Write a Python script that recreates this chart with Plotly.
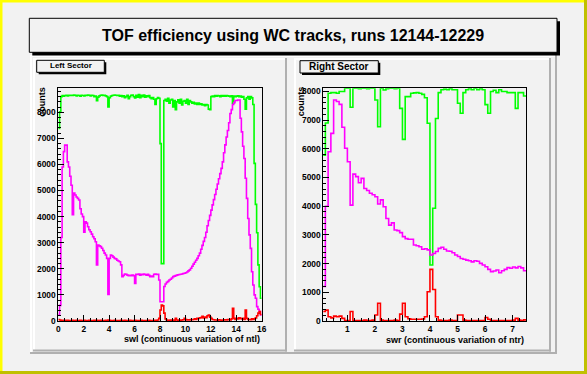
import plotly.graph_objects as go

W, H = 587, 374

# ---------------- data ----------------
left_x0, left_w = 0.0, 0.1
left_green = [
    7380, 8020, 8600, 8640, 8620, 8640, 8650, 8630, 8650, 8640,
    8650, 8640, 8660, 8650, 8630, 8650, 8640, 8620, 8650, 8640,
    8630, 8650, 8640, 8660, 8650, 8630, 8650, 8640, 8600, 8620,
    8440, 8580, 8630, 8650, 8660, 8640, 8650, 8630, 8600, 8200,
    8560, 8620, 8640, 8650, 8660, 8650, 8640, 8650, 8620, 8640,
    8600, 8630, 8560, 8600, 8650, 8520, 8600, 8650, 8660, 8600,
    8550, 8650, 8580, 8680, 8560, 8650, 8600, 8660, 8580, 8630,
    8600, 8640, 8560, 8520, 8560, 8500, 8300, 8520, 8560, 8540,
    6800, 2200, 2200, 8450, 8500, 8420, 8540, 8350, 8470, 8500,
    8200, 8450, 8100, 8400, 8480, 8350, 8500, 8280, 8420, 8450,
    8350, 8500, 8300, 8450, 8400, 8350, 8380, 8320, 8350, 8300,
    8350, 8300, 8320, 8280, 8300, 8250, 8300, 8280, 8120, 8100,
    8600, 8620, 8600, 8640, 8620, 8640, 8630, 8600, 8640, 8620,
    8640, 8620, 8640, 8630, 8620, 8600, 8630, 8350, 8620, 8600,
    8620, 8630, 8600, 8620, 8580, 8600, 8500, 8120, 8550, 8600,
    8500, 8600, 8550, 8300, 6040, 4470, 3380, 2150, 1315, 870,
]
left_magenta = [
    250, 600, 3200, 5900, 6490, 6740, 6740, 6100, 5900, 5550,
    5200, 4070, 4900, 4830, 4750, 4700, 4640, 4300, 4100, 4000,
    3400, 3800, 3750, 3610, 3500, 3420, 3330, 3230, 3150, 3040,
    2150, 2910, 2880, 2850, 2790, 2700, 2600, 2530, 2400, 1020,
    2400, 2530, 2500, 2450, 2400, 2380, 2330, 2300, 2270, 2150,
    1700, 1750, 1800, 1790, 1760, 1740, 1750, 1740, 1760, 1740,
    1440, 1790, 1780, 1800, 1760, 1790, 1770, 1800, 1780, 1760,
    1790, 1750, 1700, 1720, 1700, 1790, 1800, 1780, 1790, 1570,
    740, 740, 740, 1320, 1420, 1480, 1520, 1570, 1600, 1650,
    1700, 1720, 1740, 1760, 1770, 1780, 1790, 1800, 1820, 1830,
    1850, 1880, 1920, 1960, 2020, 2100, 2180, 2250, 2330, 2400,
    2500, 2600, 2750, 2900, 3050, 3200, 3400, 3650, 3850, 4050,
    4250, 4450, 4650, 4850, 5050, 5250, 5450, 5650, 5850, 6100,
    6450, 6750, 7050, 7300, 7600, 7950, 8100, 8300, 8370, 8450,
    8450, 8470, 8470, 7770, 7250, 6700, 6230, 5470, 4700, 3930,
    3300, 2785, 1890, 1380, 1000, 870, 550, 450, 360, 230,
]
left_red = [
    60, 40, 30, 30, 20, 30, 20, 30, 20, 20,
    20, 30, 20, 20, 30, 20, 20, 30, 20, 20,
    30, 20, 20, 20, 30, 20, 20, 20, 30, 20,
    30, 20, 20, 30, 20, 20, 20, 30, 20, 40,
    30, 20, 20, 20, 30, 20, 20, 20, 20, 30,
    20, 20, 30, 20, 20, 20, 30, 20, 20, 20,
    30, 20, 20, 20, 20, 30, 20, 20, 20, 20,
    20, 30, 20, 20, 20, 20, 30, 20, 40, 100,
    420, 610, 580, 300, 80, 40, 30, 30, 40, 30,
    40, 30, 100, 40, 30, 40, 30, 40, 50, 100,
    60, 40, 50, 40, 60, 50, 60, 80, 60, 100,
    100, 120, 130, 180, 120, 150, 130, 200, 230, 150,
    100, 60, 50, 40, 40, 30, 50, 40, 30, 40,
    40, 50, 40, 60, 50, 40, 80, 490, 100, 60,
    100, 80, 120, 100, 80, 100, 60, 420, 100, 60,
    60, 50, 80, 60, 80, 120, 200, 300, 360, 250,
]

right_x0, right_w = 0.1, 0.1
right_green = [
    5780, 6900, 7940, 7960, 7960, 7940, 8000, 8000, 8110, 8110,
    7450, 8110, 8110, 8100, 8110, 8110, 8100, 8110, 8110, 7700,
    6770, 8110, 8050, 8100, 8110, 8110, 8100, 8110, 7410, 6330,
    7820, 7820, 7940, 7950, 7960, 7940, 7900, 7780, 6890, 1950,
    3930, 7060, 7960, 8060, 8080, 8060, 8100, 8060, 8060, 7590,
    7240, 7960, 8060, 8100, 8060, 8110, 8060, 8100, 8060, 7540,
    7240, 8000, 8040, 7960, 8060, 8000, 8000, 7960, 7960, 7960,
    7410, 7960, 7960, 7840,
]
right_magenta = [
    1200, 4000, 5900, 6540, 7700, 7650, 7550, 6750, 6020, 5550,
    4040, 5120, 5030, 4820, 4970, 4620, 4550, 4450, 4400, 4330,
    4080, 4220, 3980, 3570, 3340, 3420, 3170, 3150, 3080, 2940,
    2870, 2850, 2850, 2650, 2620, 2590, 2500, 2520, 2480, 2300,
    2350, 2420, 2530, 2570, 2500, 2440, 2430, 2380, 2300, 2250,
    2180, 2150, 2120, 2100, 2060, 2100, 2080, 2010, 1950, 1890,
    1800, 1720, 1740, 1780, 1680, 1750, 1800, 1860, 1840, 1880,
    1850, 1900, 1850, 1750,
]
right_red = [
    330, 380, 150, 110, 170, 150, 170, 90, 20, 20,
    330, 20, 20, 20, 20, 30, 20, 20, 30, 210,
    620, 30, 20, 20, 20, 20, 30, 20, 240, 620,
    150, 80, 60, 60, 60, 60, 70, 150, 1020, 1800,
    1100, 150, 30, 20, 20, 20, 30, 20, 20, 210,
    210, 30, 20, 20, 20, 20, 20, 20, 20, 120,
    60, 20, 20, 20, 20, 20, 20, 20, 20, 30,
    90, 30, 20, 40,
]

title_text = "TOF efficiency using WC tracks, runs 12144-12229"
left_label = "Left Sector"
right_label = "Right Sector"
left_xtitle = "swl (continuous variation of ntl)"
right_xtitle = "swr (continuous variation of ntr)"
ytitle = "counts"

# ---------------- helpers ----------------
BG = "#f2f2f2"
GRAY = "#b0b0b0"
FONT = "Liberation Sans, Arial, Helvetica, sans-serif"


def px(x):
    return x / W


def py(y):
    return 1 - y / H


def rect(x0, y0, x1, y1, fill=None, line_color=None, lw=0):
    d = dict(type="rect", xref="paper", yref="paper",
             x0=px(x0), x1=px(x1), y0=py(y1), y1=py(y0), layer="above")
    d["fillcolor"] = fill if fill else "rgba(0,0,0,0)"
    if line_color:
        d["line"] = dict(color=line_color, width=lw)
    else:
        d["line"] = dict(width=0)
    return d


def bevel(x0, y0, x1, y1, b=2):
    return [
        rect(x0, y0, x1, y0 + b, fill="white"),
        rect(x0, y0, x0 + b, y1, fill="white"),
        rect(x1 - b, y0, x1, y1, fill=GRAY),
        rect(x0, y1 - b, x1, y1, fill=GRAY),
    ]


def hist(x0, w, vals, color, xa, ya):
    edges = [x0 + i * w for i in range(len(vals) + 1)]
    return go.Scatter(x=edges, y=list(vals) + [vals[-1]], mode="lines",
                      line=dict(color=color, width=1.6, shape="hv"),
                      xaxis=xa, yaxis=ya, showlegend=False, hoverinfo="skip")


fig = go.Figure()
for xa, ya, x0, w, g, m, r in [
    ("x", "y", left_x0, left_w, left_green, left_magenta, left_red),
    ("x2", "y2", right_x0, right_w, right_green, right_magenta, right_red),
]:
    fig.add_trace(hist(x0, w, g, "#00ff00", xa, ya))
    fig.add_trace(hist(x0, w, m, "#ff00ff", xa, ya))
    fig.add_trace(hist(x0, w, r, "#ff0000", xa, ya))

tickfont = dict(family=FONT, size=8.4, color="black", weight="bold")
axis_common = dict(showline=True, linecolor="black", linewidth=1, mirror=True,
                   ticks="inside", ticklen=6, tickwidth=1, tickcolor="black",
                   showgrid=False, zeroline=False, tickfont=tickfont,
                   automargin=False)

fig.update_layout(
    width=W, height=H, margin=dict(l=0, r=0, t=0, b=0, pad=0), autosize=False,
    paper_bgcolor=BG, plot_bgcolor=BG,
    xaxis=dict(domain=[px(58.3), px(261.7)], range=[0, 16], tick0=0, dtick=2,
               minor=dict(ticks="inside", ticklen=3, dtick=0.5, tick0=0, tickcolor="black"),
               anchor="y", **axis_common),
    yaxis=dict(domain=[py(321), py(88)], range=[0, 8930], tick0=0, dtick=1000,
               minor=dict(ticks="inside", ticklen=3, dtick=200, tick0=0, tickcolor="black"),
               anchor="x", **axis_common),
    xaxis2=dict(domain=[px(323.3), px(526.3)], range=[0.125, 7.5], tick0=0, dtick=1,
                minor=dict(ticks="inside", ticklen=3, dtick=0.25, tick0=0, tickcolor="black"),
                anchor="y2", **axis_common),
    yaxis2=dict(domain=[py(321), py(88.3)], range=[0, 8110], tick0=0, dtick=1000,
                minor=dict(ticks="inside", ticklen=3, dtick=200, tick0=0, tickcolor="black"),
                anchor="x2", **axis_common),
)

shapes = []
# canvas border
shapes.append(rect(0, 0, W, 2.5, fill="#ffff00"))
shapes.append(rect(0, 0, 2.5, H, fill="#ffff00"))
shapes.append(rect(W - 3, 0, W, H, fill="#c0c000"))
shapes.append(rect(0, H - 3, W, H, fill="#c0c000"))
# outer pad and sub pads
shapes += bevel(30, 55, 557, 354)
shapes += bevel(33, 58, 287, 351.5)
shapes += bevel(294, 58, 551, 351.5)
# title box with shadow
shapes.append(rect(32.3, 21.3, 560, 55.5, fill="black"))
shapes.append(rect(29.3, 18.3, 557, 52.3, fill=BG, line_color="black", lw=1))
# pad label boxes
shapes.append(rect(38.7, 62.3, 106.3, 74.3, fill="black"))
shapes.append(rect(36.7, 60.3, 104.3, 72.3, fill=BG, line_color="black", lw=1))
shapes.append(rect(302, 62.7, 380.3, 75, fill="black"))
shapes.append(rect(300, 60.7, 378.3, 73, fill=BG, line_color="black", lw=1))
fig.update_layout(shapes=shapes)


def ann(text, x, y, size, xanchor="center", angle=0):
    return dict(text=text, x=px(x), y=py(y), xref="paper", yref="paper",
                xanchor=xanchor, yanchor="middle", showarrow=False, textangle=angle,
                font=dict(family=FONT, size=size, color="black", weight="bold"))


fig.update_layout(annotations=[
    ann(title_text, 292.5, 35.5, 16),
    ann(left_label, 70.5, 65.5, 8),
    ann(right_label, 339, 66.8, 10),
    ann(left_xtitle, 261.5, 339, 9, xanchor="right"),
    ann(right_xtitle, 525.5, 340, 9, xanchor="right"),
    ann(ytitle, 41.7, 102, 9, angle=-90),
    ann(ytitle, 301.3, 101, 9, angle=-90),
])

fig.write_html(
    "out.html",
    config={"displayModeBar": False, "responsive": False},
    post_script="document.body.style.margin='0px';document.body.style.overflow='hidden';",
)
